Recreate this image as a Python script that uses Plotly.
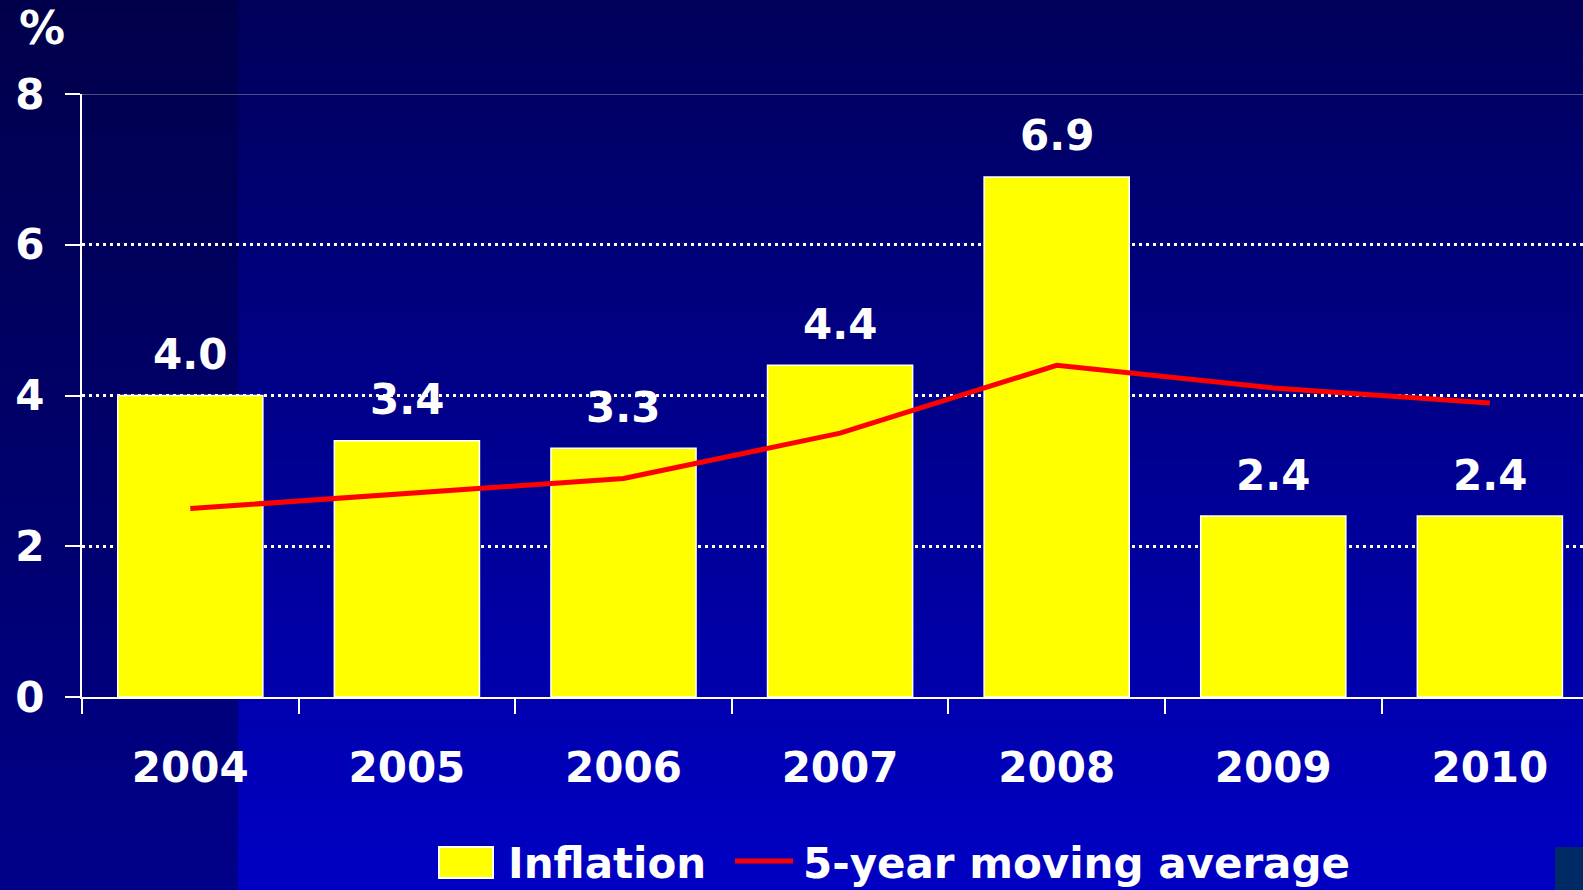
import plotly.graph_objects as go

years = ["2004", "2005", "2006", "2007", "2008", "2009", "2010"]
inflation = [4.0, 3.4, 3.3, 4.4, 6.9, 2.4, 2.4]
moving_avg = [2.5, 2.7, 2.9, 3.5, 4.4, 4.1, 3.9]
inflation_labels = ["4.0", "3.4", "3.3", "4.4", "6.9", "2.4", "2.4"]
y_ticks = [0, 2, 4, 6, 8]

W, H = 1583, 890
L, T, B = 82, 94, 193
FONT = "DejaVu Sans"


def py(pix):
    # pixel row -> paper y
    return (H - B - pix) / (H - T - B)


def px(pix):
    return (pix - L) / (W - L)


fig = go.Figure()

fig.add_trace(
    go.Bar(
        x=years,
        y=inflation,
        width=0.67,
        marker=dict(color="#ffff00", line=dict(color="white", width=1.5)),
        name="Inflation",
    )
)

fig.add_trace(
    go.Scatter(
        x=years,
        y=moving_avg,
        mode="lines",
        line=dict(color="#ff0000", width=5),
        name="5-year moving average",
    )
)

annotations = []

# value labels above bars (category index on x)
for i, (v, lab) in enumerate(zip(inflation, inflation_labels)):
    annotations.append(dict(
        xref="x", yref="y", x=i, y=v, text=lab, showarrow=False,
        xanchor="center", yanchor="middle", yshift=41,
        font=dict(family=FONT, size=42, color="white", weight="bold"),
    ))

# background gradient
shapes = []
n = 60
for i in range(n):
    f = (i + 0.5) / n
    top = H * i / n
    bot = H * (i + 1) / n
    left_b = int(0x4a + (0x8a - 0x4a) * f)
    right_b = int(0x5a + (0xc6 - 0x5a) * f)
    shapes.append(dict(type="rect", xref="paper", yref="paper", layer="below",
                       x0=px(0), x1=px(238), y0=py(bot), y1=py(top),
                       fillcolor=f"rgb(0,0,{left_b})", line=dict(width=0)))
    shapes.append(dict(type="rect", xref="paper", yref="paper", layer="below",
                       x0=px(238), x1=px(W), y0=py(bot), y1=py(top),
                       fillcolor=f"rgb(0,0,{right_b})", line=dict(width=0)))

# small box bottom right
shapes.append(dict(type="rect", xref="paper", yref="paper", layer="below",
                   x0=px(1555), x1=px(W), y0=py(H), y1=py(847),
                   fillcolor="#002a66", line=dict(width=0)))

# thin top line at 8
shapes.append(dict(type="line", xref="paper", yref="y", x0=0, x1=1, y0=8, y1=8,
                   line=dict(color="rgba(255,255,255,0.6)", width=1)))

# manual legend
shapes.append(dict(type="rect", xref="paper", yref="paper",
                   x0=px(439), x1=px(493), y0=py(878), y1=py(847),
                   fillcolor="#ffff00", line=dict(color="white", width=2)))
shapes.append(dict(type="line", xref="paper", yref="paper",
                   x0=px(735), x1=px(793), y0=py(861), y1=py(861),
                   line=dict(color="#ff0000", width=5)))

annotations.append(dict(xref="paper", yref="paper", x=px(506), y=py(863),
                        xanchor="left", yanchor="middle", showarrow=False,
                        text="Inflation",
                        font=dict(family=FONT, size=42, color="white", weight="bold")))
annotations.append(dict(xref="paper", yref="paper", x=px(801), y=py(863),
                        xanchor="left", yanchor="middle", showarrow=False,
                        text="5-year moving average",
                        font=dict(family=FONT, size=42, color="white", weight="bold")))

# % unit label
annotations.append(dict(xref="paper", yref="paper", x=px(42), y=py(28),
                        xanchor="center", yanchor="middle", showarrow=False,
                        text="%",
                        font=dict(family=FONT, size=46, color="white", weight="bold")))

fig.update_layout(
    width=W,
    height=H,
    margin=dict(l=L, r=0, t=T, b=B),
    paper_bgcolor="#000080",
    plot_bgcolor="rgba(0,0,0,0)",
    showlegend=False,
    shapes=shapes,
    annotations=annotations,
    font=dict(family=FONT, color="white"),
)

fig.update_xaxes(
    type="category",
    range=[-0.5, 6.43],
    tickson="boundaries",
    ticks="outside",
    ticklen=15,
    tickwidth=2,
    tickcolor="white",
    showline=True,
    linecolor="white",
    linewidth=2,
    showgrid=False,
    ticklabelstandoff=33,
    tickfont=dict(family=FONT, size=42, color="white", weight="bold"),
)

fig.update_yaxes(
    range=[0, 8],
    tickvals=y_ticks,
    ticks="outside",
    ticklen=15,
    tickwidth=2,
    tickcolor="white",
    showline=True,
    linecolor="white",
    linewidth=2,
    showgrid=True,
    gridcolor="white",
    gridwidth=2.5,
    griddash="3px,4px",
    zeroline=False,
    ticklabelstandoff=12,
    tickfont=dict(family=FONT, size=42, color="white", weight="bold"),
)

fig.write_html("out.html", config={"displayModeBar": False},
               post_script="document.body.style.margin='0';")
